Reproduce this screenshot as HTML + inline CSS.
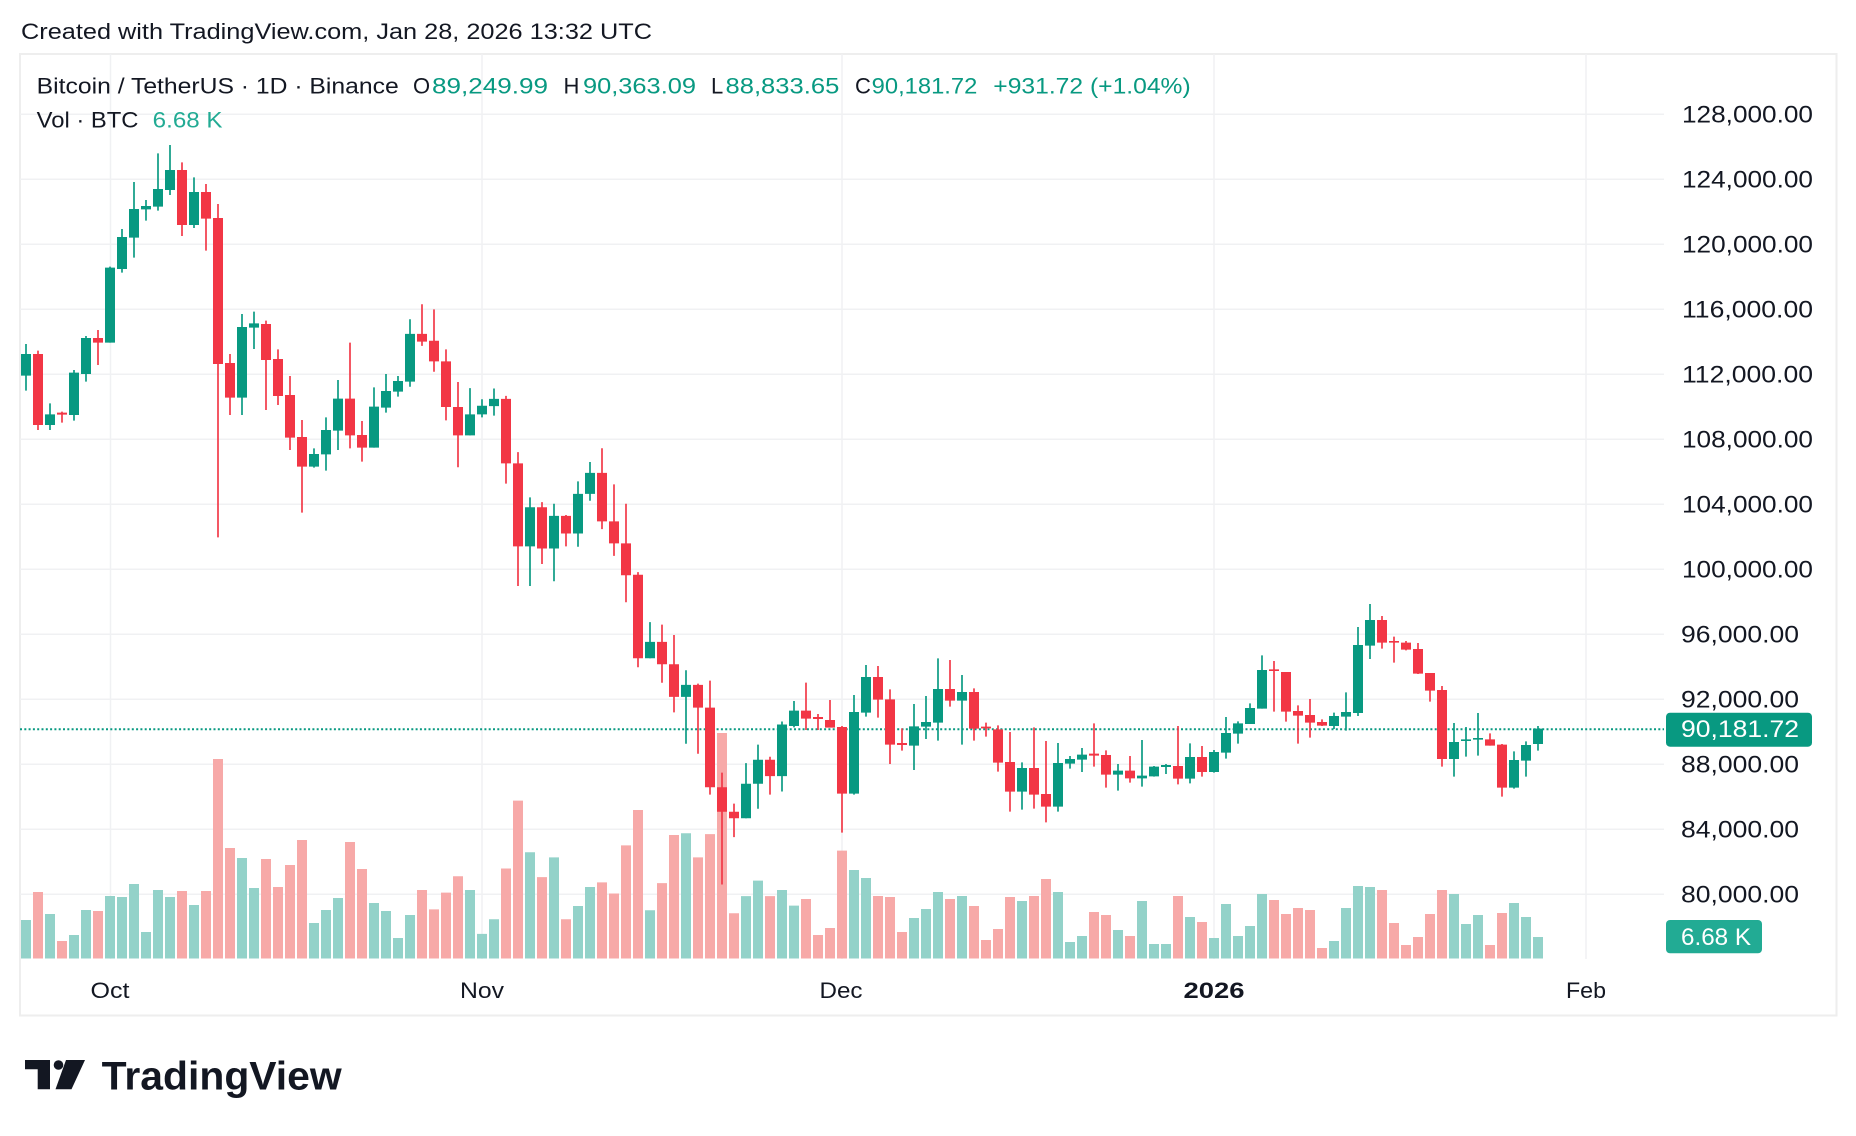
<!DOCTYPE html>
<html>
<head>
<meta charset="utf-8">
<style>
html,body{margin:0;padding:0;background:#ffffff;}
svg{display:block;}
text{font-family:"Liberation Sans",Arial,sans-serif;}
.gw{stroke:#089981;stroke-width:5;fill:none;}
.gb{stroke:#089981;stroke-width:30;fill:none;}
.rw{stroke:#f23645;stroke-width:5;fill:none;}
.rb{stroke:#f23645;stroke-width:30;fill:none;}
.gv{stroke:#93d2c9;stroke-width:30;fill:none;}
.rv{stroke:#f7a9a8;stroke-width:30;fill:none;}
.grid{stroke:#f0f1f3;stroke-width:1.5;}
.ax{font-size:24px;fill:#131722;}
.tm{font-size:22px;fill:#131722;}
</style>
</head>
<body>
<svg width="1856" height="1136" viewBox="0 0 1856 1136" xmlns="http://www.w3.org/2000/svg">
<rect x="0" y="0" width="1856" height="1136" fill="#ffffff"/>

<!-- header -->
<text x="21" y="39" font-size="22" fill="#131722" textLength="631" lengthAdjust="spacingAndGlyphs">Created with TradingView.com, Jan 28, 2026 13:32 UTC</text>

<!-- panel border -->
<rect x="20" y="54" width="1816.5" height="961.5" fill="none" stroke="#eeeeee" stroke-width="2"/>

<!-- horizontal grid -->
<g class="grid">
<line x1="20" y1="114.3" x2="1664" y2="114.3"/>
<line x1="20" y1="179.3" x2="1664" y2="179.3"/>
<line x1="20" y1="244.3" x2="1664" y2="244.3"/>
<line x1="20" y1="309.3" x2="1664" y2="309.3"/>
<line x1="20" y1="374.3" x2="1664" y2="374.3"/>
<line x1="20" y1="439.3" x2="1664" y2="439.3"/>
<line x1="20" y1="504.3" x2="1664" y2="504.3"/>
<line x1="20" y1="569.3" x2="1664" y2="569.3"/>
<line x1="20" y1="634.3" x2="1664" y2="634.3"/>
<line x1="20" y1="699.3" x2="1664" y2="699.3"/>
<line x1="20" y1="764.3" x2="1664" y2="764.3"/>
<line x1="20" y1="829.3" x2="1664" y2="829.3"/>
<line x1="20" y1="894.3" x2="1664" y2="894.3"/>
<line x1="110.5" y1="54" x2="110.5" y2="959"/>
<line x1="482" y1="54" x2="482" y2="959"/>
<line x1="842" y1="54" x2="842" y2="959"/>
<line x1="1214" y1="54" x2="1214" y2="959"/>
<line x1="1586" y1="54" x2="1586" y2="959"/>
</g>

<!-- volumes -->
<g transform="translate(15,740) scale(0.333333)">
<path class="gv" d="M33 655.5V540M105 655.5V522M177 655.5V585M213 655.5V510M285 655.5V468M321 655.5V471M357 655.5V432M393 655.5V576M429 655.5V450M465 655.5V471M537 655.5V495M681 655.5V354M717 655.5V444M897 655.5V549M933 655.5V510M969 655.5V474M1077 655.5V489M1113 655.5V513M1149 655.5V594"/>
<path class="rv" d="M69 655.5V456M141 655.5V603M249 655.5V513M501 655.5V453M573 655.5V453M609 655.5V57M645 655.5V324M753 655.5V357M789 655.5V441M825 655.5V375M861 655.5V300M1005 655.5V306M1041 655.5V387"/>
</g>
<g transform="translate(400,290) scale(0.333333,0.43015)">
<path class="gv" d="M30 1554V1453M210 1554V1395M246 1554V1497M282 1554V1463M390 1554V1307M462 1554V1319M534 1554V1432M570 1554V1388M750 1554V1442M858 1554V1263M1038 1554V1409M1074 1554V1373M1146 1554V1395"/>
<path class="rv" d="M66 1554V1395M102 1554V1440M138 1554V1401M174 1554V1363M318 1554V1345M354 1554V1187M426 1554V1365M498 1554V1463M606 1554V1377M642 1554V1403M678 1554V1291M714 1554V1209M786 1554V1379M822 1554V1267M894 1554V1319M930 1554V1265M966 1554V1030M1002 1554V1449M1110 1554V1409"/>
</g>
<g transform="translate(785,620) scale(0.333333)">
<path class="gv" d="M27 1015.5V857M207 1015.5V750M243 1015.5V774M387 1015.5V894M423 1015.5V867M459 1015.5V816M531 1015.5V828M711 1015.5V843M819 1015.5V816M855 1015.5V966M891 1015.5V948M999 1015.5V930M1071 1015.5V843M1107 1015.5V972M1143 1015.5V972"/>
<path class="rv" d="M63 1015.5V837M99 1015.5V945M135 1015.5V924M171 1015.5V692M279 1015.5V828M315 1015.5V831M351 1015.5V936M495 1015.5V837M567 1015.5V858M603 1015.5V960M639 1015.5V927M675 1015.5V831M747 1015.5V828M783 1015.5V777M927 1015.5V876M963 1015.5V885M1035 1015.5V948"/>
</g>
<g transform="translate(1170,580) scale(0.333333)">
<path class="gv" d="M60 1135.5V1011M132 1135.5V1074M168 1135.5V972M204 1135.5V1068M240 1135.5V1038M276 1135.5V942M492 1135.5V1083M528 1135.5V984M564 1135.5V918M600 1135.5V921M852 1135.5V942M888 1135.5V1032M924 1135.5V1005M1032 1135.5V969M1068 1135.5V1011M1104 1135.5V1071"/>
<path class="rv" d="M24 1135.5V948M96 1135.5V1026M312 1135.5V960M348 1135.5V1002M384 1135.5V984M420 1135.5V990M456 1135.5V1104M636 1135.5V930M672 1135.5V1029M708 1135.5V1095M744 1135.5V1071M780 1135.5V1002M816 1135.5V930M960 1135.5V1095M996 1135.5V999"/>
</g>

<!-- current price dotted line -->
<line x1="20" y1="729.3" x2="1664" y2="729.3" stroke="#089981" stroke-width="2" stroke-dasharray="2 2.3"/>

<!-- candles -->
<g transform="translate(15,130) scale(0.333333)">
<path class="gw" d="M33 642V782M105 820V900M177 720V872M213 618V755M285 410V638M321 297V428M357 156V383M393 210V272M429 70V242M465 45V195M537 142V294M681 552V855M717 545V657M897 955V1013M933 862V1022M969 750V960M1077 772V953M1113 732V848M1149 738V800"/>
<path class="gb" d="M33 672V737M105 853V885M177 728V855M213 624V732M285 413V638M321 321V417M357 237V323M393 228V238M429 177V230M465 120V180M537 186V285M681 591V803M717 580V593M897 972V1010M933 900V973M969 806V902M1077 830V953M1113 783V833M1149 753V785"/>
<path class="rw" d="M69 662V900M141 845V878M249 600V705M501 97V318M573 162V362M609 222V1222M645 672V855M753 572V840M789 658V825M825 738V960M861 870V1148M1005 638V955M1041 873V995"/>
<path class="rb" d="M69 672V885M141 848V854M249 624V638M501 120V285M573 186V266M609 264V702M645 699V803M753 582V690M789 687V798M825 795V923M861 921V1010M1005 806V916M1041 915V953"/>
</g>
<g transform="translate(400,290) scale(0.333333,0.43015)">
<path class="gw" d="M30 68V225M210 228V338M246 254V296M282 229V292M390 482V688M462 497V677M534 445V597M570 400V490M750 772V856M858 884V1055M1038 1100V1228M1074 1057V1206M1146 1003V1166"/>
<path class="gb" d="M30 102V213M210 289V338M246 269V289M282 253V270M390 505V596M462 525V601M534 474V566M570 425V474M750 818V856M858 918V946M1038 1148V1228M1074 1092V1148M1146 1010V1130"/>
<path class="rw" d="M66 33V130M102 45V190M138 138V303M174 214V412M318 246V450M354 377V688M426 493V637M498 523V596M606 368V556M642 452V618M678 497V726M714 656V877M786 778V913M822 802V982M894 915V1078M930 908V1173M966 1122V1382M1002 1194V1272M1110 1085V1173"/>
<path class="rb" d="M66 102V120M102 118V166M138 166V272M174 272V338M318 253V403M354 403V596M426 505V601M498 525V566M606 425V538M642 538V589M678 589V663M714 662V856M786 818V870M822 870V946M894 918V971M930 971V1156M966 1156V1213M1002 1213V1228M1110 1092V1130"/>
</g>
<g transform="translate(785,620) scale(0.333333)">
<path class="gw" d="M27 243V322M207 225V524M243 135V290M387 252V450M423 228V357M459 115V362M531 165V374M711 427V569M819 369V575M855 408V446M891 384V456M999 432V512M1071 360V500M1107 438V470M1143 432V462"/>
<path class="gb" d="M27 272V318M207 276V521M243 171V278M387 319V377M423 306V320M459 207V308M531 216V242M711 444V515M819 429V560M855 417V431M891 404V419M999 452V464M1071 467V475M1107 440V469M1143 435V441"/>
<path class="rw" d="M63 188V330M99 282V330M135 240V322M171 318V638M279 138V293M315 208V432M351 325V392M495 120V260M567 205V362M603 308V350M639 316V455M675 336V575M747 322V566M783 363V607M927 310V440M963 391V503M1035 408V488"/>
<path class="rb" d="M63 272V296M99 291V297M135 300V323M171 321V521M279 171V239M315 238V374M351 369V375M495 207V242M567 216V326M603 320V325M639 328V428M675 426V515M747 444V524M783 522V560M927 401V407M963 405V464M1035 452V475"/>
</g>
<g transform="translate(1170,580) scale(0.333333)">
<path class="gw" d="M60 490V610M132 510V578M168 411V536M204 424V491M240 370V432M276 226V386M492 398V447M528 337V452M564 141V408M600 72V237M852 429V590M888 441V530M924 399V527M1032 514V626M1068 484V590M1104 438V512"/>
<path class="gb" d="M60 531V596M132 516V576M168 459V518M204 430V461M240 384V432M276 270V386M492 408V438M528 396V410M564 195V399M600 120V197M852 486V537M888 478V483M924 474V479M1032 540V623M1068 495V542M1104 446V492"/>
<path class="rw" d="M24 438V613M96 498V590M312 243V395M348 276V425M384 376V491M420 357V473M456 418V438M636 108V206M672 170V248M708 183V211M744 189V282M780 279V365M816 318V560M960 460V497M996 492V650"/>
<path class="rb" d="M24 558V596M96 531V576M312 268V273M348 276V395M384 393V407M420 405V428M456 426V437M636 120V188M672 183V188M708 188V209M744 207V281M780 279V332M816 330V537M960 478V497M996 494V623"/>
</g>

<!-- legend -->
<g font-size="22">
<text x="36.7" y="93.3" fill="#131722" textLength="362" lengthAdjust="spacingAndGlyphs">Bitcoin / TetherUS · 1D · Binance</text>
<text x="413" y="93.3" fill="#131722">O</text>
<text x="432" y="93.3" fill="#089981" textLength="116" lengthAdjust="spacingAndGlyphs">89,249.99</text>
<text x="563.5" y="93.3" fill="#131722">H</text>
<text x="583" y="93.3" fill="#089981" textLength="113" lengthAdjust="spacingAndGlyphs">90,363.09</text>
<text x="711" y="93.3" fill="#131722">L</text>
<text x="725.5" y="93.3" fill="#089981" textLength="113.8" lengthAdjust="spacingAndGlyphs">88,833.65</text>
<text x="855" y="93.3" fill="#131722">C</text>
<text x="871.7" y="93.3" fill="#089981" textLength="105.6" lengthAdjust="spacingAndGlyphs">90,181.72</text>
<text x="993.3" y="93.3" fill="#089981" textLength="197.4" lengthAdjust="spacingAndGlyphs">+931.72 (+1.04%)</text>
<text x="36.7" y="127.3" fill="#131722" textLength="101.8" lengthAdjust="spacingAndGlyphs">Vol · BTC</text>
<text x="152.7" y="127.3" fill="#22ab94" textLength="69.8" lengthAdjust="spacingAndGlyphs">6.68 K</text>
</g>

<!-- price axis -->
<g class="ax">
<text x="1682" y="122.7" textLength="131" lengthAdjust="spacingAndGlyphs">128,000.00</text>
<text x="1682" y="187.7" textLength="131" lengthAdjust="spacingAndGlyphs">124,000.00</text>
<text x="1682" y="252.7" textLength="131" lengthAdjust="spacingAndGlyphs">120,000.00</text>
<text x="1682" y="317.7" textLength="131" lengthAdjust="spacingAndGlyphs">116,000.00</text>
<text x="1682" y="382.7" textLength="131" lengthAdjust="spacingAndGlyphs">112,000.00</text>
<text x="1682" y="447.7" textLength="131" lengthAdjust="spacingAndGlyphs">108,000.00</text>
<text x="1682" y="512.7" textLength="131" lengthAdjust="spacingAndGlyphs">104,000.00</text>
<text x="1682" y="577.7" textLength="131" lengthAdjust="spacingAndGlyphs">100,000.00</text>
<text x="1681" y="642.7" textLength="118" lengthAdjust="spacingAndGlyphs">96,000.00</text>
<text x="1681" y="707.7" textLength="118" lengthAdjust="spacingAndGlyphs">92,000.00</text>
<text x="1681" y="772.7" textLength="118" lengthAdjust="spacingAndGlyphs">88,000.00</text>
<text x="1681" y="837.7" textLength="118" lengthAdjust="spacingAndGlyphs">84,000.00</text>
<text x="1681" y="902.7" textLength="118" lengthAdjust="spacingAndGlyphs">80,000.00</text>
</g>

<!-- price label -->
<rect x="1666" y="712.7" width="146" height="34" rx="4" fill="#089981"/>
<text x="1681" y="737" font-size="24" fill="#ffffff" textLength="118" lengthAdjust="spacingAndGlyphs">90,181.72</text>
<!-- volume label -->
<rect x="1666" y="920" width="96" height="33.3" rx="4" fill="#22ab94"/>
<text x="1681" y="945" font-size="24" fill="#ffffff" textLength="70" lengthAdjust="spacingAndGlyphs">6.68 K</text>

<!-- time axis -->
<text class="tm" x="110" y="998" text-anchor="middle" textLength="39" lengthAdjust="spacingAndGlyphs">Oct</text>
<text class="tm" x="482" y="998" text-anchor="middle" textLength="44" lengthAdjust="spacingAndGlyphs">Nov</text>
<text class="tm" x="841" y="998" text-anchor="middle" textLength="43" lengthAdjust="spacingAndGlyphs">Dec</text>
<text class="tm" x="1214" y="998" text-anchor="middle" font-weight="bold" textLength="61" lengthAdjust="spacingAndGlyphs">2026</text>
<text class="tm" x="1586" y="998" text-anchor="middle" textLength="40" lengthAdjust="spacingAndGlyphs">Feb</text>

<!-- TradingView logo -->
<g fill="#131722">
<path d="M25 1060H50V1089.3H37.7V1069.3H25Z"/>
<circle cx="58.5" cy="1065" r="4.8"/>
<path d="M66 1060H85L71.5 1089.3H55.5Z"/>
<text x="101.7" y="1089.3" font-size="40" font-weight="bold" textLength="240" lengthAdjust="spacingAndGlyphs">TradingView</text>
</g>
</svg>
</body>
</html>
